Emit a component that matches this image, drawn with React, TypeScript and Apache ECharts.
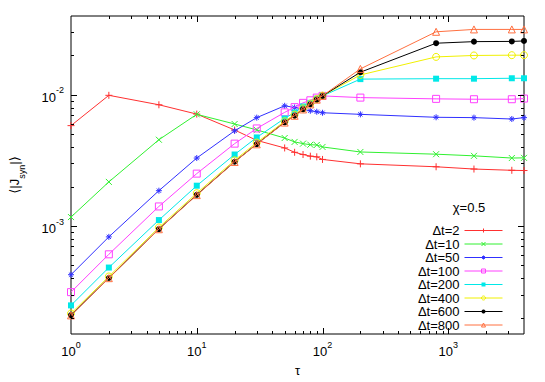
import React, { useEffect, useRef } from 'react';
import * as echarts from 'echarts';

const TAU = [1, 2, 5, 10, 20, 30, 50, 60, 70, 80, 90, 100, 200, 800, 1600, 3200, 4000];

const DT2 = [5.83e-3, 9.93e-3, 8.41e-3, 7.14e-3, 5.4e-3, 4.5e-3, 3.94e-3, 3.65e-3, 3.51e-3, 3.41e-3, 3.37e-3, 3.22e-3, 2.98e-3, 2.83e-3, 2.72e-3, 2.66e-3, 2.65e-3];
const DT10 = [1.17e-3, 2.17e-3, 4.55e-3, 7.11e-3, 6.0e-3, 5.41e-3, 4.69e-3, 4.38e-3, 4.25e-3, 4.17e-3, 4.15e-3, 4.01e-3, 3.67e-3, 3.53e-3, 3.43e-3, 3.3e-3, 3.31e-3];
const DT50 = [4.25e-4, 8.26e-4, 1.86e-3, 3.3e-3, 5.32e-3, 6.71e-3, 8.26e-3, 8.02e-3, 7.78e-3, 7.57e-3, 7.44e-3, 7.31e-3, 7.11e-3, 6.75e-3, 6.71e-3, 6.55e-3, 6.71e-3];
const DT100 = [3.13e-4, 6.08e-4, 1.41e-3, 2.51e-3, 4.25e-3, 5.55e-3, 7.36e-3, 8.07e-3, 8.7e-3, 9.1e-3, 9.54e-3, 9.83e-3, 9.54e-3, 9.33e-3, 9.27e-3, 9.27e-3, 9.38e-3];
const DT200 = [2.48e-4, 4.82e-4, 1.11e-3, 2.03e-3, 3.51e-3, 4.74e-3, 6.62e-3, 7.35e-3, 8.16e-3, 8.7e-3, 9.38e-3, 9.83e-3, 1.32e-2, 1.33e-2, 1.33e-2, 1.34e-2, 1.34e-2];
const DT400 = [2.15e-4, 4.12e-4, 9.75e-4, 1.78e-3, 3.17e-3, 4.33e-3, 6.3e-3, 7.08e-3, 7.9e-3, 8.6e-3, 9.3e-3, 9.88e-3, 1.42e-2, 1.95e-2, 2.0e-2, 2.01e-2, 2.01e-2];
const DT600 = [2.09e-4, 4.01e-4, 9.48e-4, 1.73e-3, 3.09e-3, 4.22e-3, 6.18e-3, 6.95e-3, 7.78e-3, 8.49e-3, 9.22e-3, 9.83e-3, 1.49e-2, 2.48e-2, 2.55e-2, 2.56e-2, 2.58e-2];
const DT800 = [2.08e-4, 4.0e-4, 9.45e-4, 1.72e-3, 3.08e-3, 4.2e-3, 6.15e-3, 6.93e-3, 7.75e-3, 8.47e-3, 9.2e-3, 9.85e-3, 1.58e-2, 3.03e-2, 3.16e-2, 3.16e-2, 3.16e-2];

const SERIES_NAMES = ['Δt=2', 'Δt=10', 'Δt=50', 'Δt=100', 'Δt=200', 'Δt=400', 'Δt=600', 'Δt=800'];
const SERIES_VALUES = [DT2, DT10, DT50, DT100, DT200, DT400, DT600, DT800];

const X_MIN = 1;
const X_MAX = 4000;
const Y_MIN = 1.5e-4;
const Y_MAX = 0.04;

const X_DECADES = [1, 10, 100, 1000];
const Y_DECADES = [1e-4, 1e-3, 1e-2];
const MULTIPLIERS = [1, 2, 3, 4, 5, 6, 7, 8, 9];

const FONT = '"Liberation Sans", Arial, "DejaVu Sans", sans-serif';

const COLORS = ['#ff3030', '#30f030', '#3030ff', '#ff40ff', '#00e8e8', '#f0f000', '#000000', '#ff7040'];

const PLUS = 'path://M0,5L10,5M5,0L5,10';
const CROSS = 'path://M0,0L10,10M10,0L0,10';
const STAR = 'path://M0,5L10,5M5,0L5,10M1.5,1.5L8.5,8.5M8.5,1.5L1.5,8.5';

type Marker = { symbol: string; size: number; filled: boolean };
const MARKERS: Marker[] = [
  { symbol: PLUS, size: 7, filled: false },
  { symbol: CROSS, size: 6, filled: false },
  { symbol: STAR, size: 6, filled: false },
  { symbol: 'rect', size: 7, filled: false },
  { symbol: 'rect', size: 6, filled: true },
  { symbol: 'circle', size: 7, filled: false },
  { symbol: 'circle', size: 6, filled: true },
  { symbol: 'triangle', size: 7, filled: false },
];

function buildTicks(decades: number[], lo: number, hi: number) {
  const out: { v: number; major: boolean }[] = [];
  decades.forEach((d) => {
    MULTIPLIERS.forEach((m) => {
      const v = d * m;
      if (v > lo * 1.0001 && v < hi * 0.9999) out.push({ v, major: m === 1 });
    });
  });
  return out;
}

function labelFormatter(v: number) {
  const e = Math.log10(v);
  const r = Math.round(e);
  if (Math.abs(e - r) > 1e-6) return '';
  return `{b|10}{s|${r}}`;
}

const RICH = {
  b: { fontSize: 13, fontFamily: FONT, color: '#000', verticalAlign: 'bottom', lineHeight: 18 },
  s: { fontSize: 9, fontFamily: FONT, color: '#000', verticalAlign: 'top', lineHeight: 18 },
};

function markerStyle(i: number) {
  const mk = MARKERS[i];
  const c = COLORS[i];
  return {
    color: mk.filled ? c : 'rgba(0,0,0,0)',
    borderColor: c,
    borderWidth: mk.filled ? 0 : 1,
  };
}

export default function App() {
  const ref = useRef<HTMLDivElement>(null);
  useEffect(() => {
    if (!ref.current) return;
    const chart = echarts.init(ref.current, undefined, { renderer: 'svg' });

    const xTicks = buildTicks(X_DECADES, X_MIN, X_MAX);
    const yTicks = buildTicks(Y_DECADES, Y_MIN, Y_MAX);

    const lineSeries = SERIES_NAMES.map((name, i) => {
      const mk = MARKERS[i];
      const c = COLORS[i];
      return {
        type: 'line',
        name,
        data: TAU.map((t, j) => [t, SERIES_VALUES[i][j]]),
        symbol: mk.symbol,
        symbolSize: mk.size,
        showSymbol: true,
        clip: true,
        lineStyle: { color: c, width: 1 },
        itemStyle: markerStyle(i),
        emphasis: { disabled: true },
        z: 3 + i,
      };
    });

    const tickStyle = { stroke: '#000', lineWidth: 1 };

    const xTickSeries = {
      type: 'custom',
      name: '__xticks',
      silent: true,
      clip: false,
      encode: { x: 0, y: 1 },
      data: xTicks.map((t) => [t.v, Y_MIN, t.major ? 1 : 0]),
      renderItem: (_p: any, api: any) => {
        const v = api.value(0);
        const major = api.value(2) === 1;
        const len = major ? 6 : 3;
        const pb = api.coord([v, Y_MIN]);
        const pt = api.coord([v, Y_MAX]);
        const x = Math.round(pb[0]) + 0.5;
        return {
          type: 'group',
          children: [
            { type: 'line', shape: { x1: x, y1: pb[1], x2: x, y2: pb[1] - len }, style: tickStyle },
            { type: 'line', shape: { x1: x, y1: pt[1], x2: x, y2: pt[1] + len }, style: tickStyle },
          ],
        };
      },
      z: 20,
    };

    const yTickSeries = {
      type: 'custom',
      name: '__yticks',
      silent: true,
      clip: false,
      encode: { x: 0, y: 1 },
      data: yTicks.map((t) => [X_MIN, t.v, t.major ? 1 : 0]),
      renderItem: (_p: any, api: any) => {
        const v = api.value(1);
        const major = api.value(2) === 1;
        const len = major ? 6 : 3;
        const pl = api.coord([X_MIN, v]);
        const pr = api.coord([X_MAX, v]);
        const y = Math.round(pl[1]) + 0.5;
        return {
          type: 'group',
          children: [
            { type: 'line', shape: { x1: pl[0], y1: y, x2: pl[0] + len, y2: y }, style: tickStyle },
            { type: 'line', shape: { x1: pr[0], y1: y, x2: pr[0] - len, y2: y }, style: tickStyle },
          ],
        };
      },
      z: 20,
    };

    chart.setOption({
      animation: false,
      backgroundColor: '#fff',
      title: {
        text: 'χ=0.5',
        left: 464,
        top: 196,
        textAlign: 'center',
        textStyle: { fontSize: 13, fontWeight: 'normal', fontFamily: FONT, color: '#000' },
      },
      legend: {
        data: SERIES_NAMES.map((name, i) => ({ name, itemStyle: markerStyle(i) })),
        orient: 'vertical',
        align: 'right',
        right: 37,
        top: 219,
        itemWidth: 38,
        itemHeight: 5,
        itemGap: 0.5,
        selectedMode: false,
        lineStyle: { width: 1 },
        textStyle: { fontSize: 13, fontFamily: FONT, color: '#000', lineHeight: 13 },
      },
      grid: {
        left: 67,
        top: 16,
        width: 457,
        height: 322,
        show: true,
        borderColor: '#000',
        borderWidth: 1,
        backgroundColor: 'transparent',
      },
      xAxis: {
        type: 'log',
        logBase: 10,
        min: X_MIN,
        max: X_MAX,
        name: 'τ',
        nameLocation: 'middle',
        nameGap: 30,
        nameTextStyle: { fontSize: 13, fontFamily: FONT, color: '#000' },
        axisLine: { show: false },
        axisTick: { show: false },
        splitLine: { show: false },
        minorTick: { show: false },
        axisLabel: { formatter: labelFormatter, rich: RICH, margin: 6, showMinLabel: true, showMaxLabel: true },
      },
      yAxis: {
        type: 'log',
        logBase: 10,
        min: Y_MIN,
        max: Y_MAX,
        name: '{t|⟨|J}{sub|syn}{t||⟩}',
        nameLocation: 'middle',
        nameGap: 45,
        nameRotate: 90,
        nameTextStyle: {
          rich: {
            t: { fontSize: 13, fontFamily: FONT, color: '#000', verticalAlign: 'top', lineHeight: 18 },
            sub: { fontSize: 9, fontFamily: FONT, color: '#000', verticalAlign: 'bottom', lineHeight: 18 },
          },
        },
        axisLine: { show: false },
        axisTick: { show: false },
        splitLine: { show: false },
        minorTick: { show: false },
        axisLabel: { formatter: labelFormatter, rich: RICH, margin: 7 },
      },
      series: [...lineSeries, xTickSeries, yTickSeries],
    });
    return () => chart.dispose();
  }, []);
  return <div ref={ref} style={{ position: 'fixed', left: 0, top: 0, width: 545, height: 382 }} />;
}
